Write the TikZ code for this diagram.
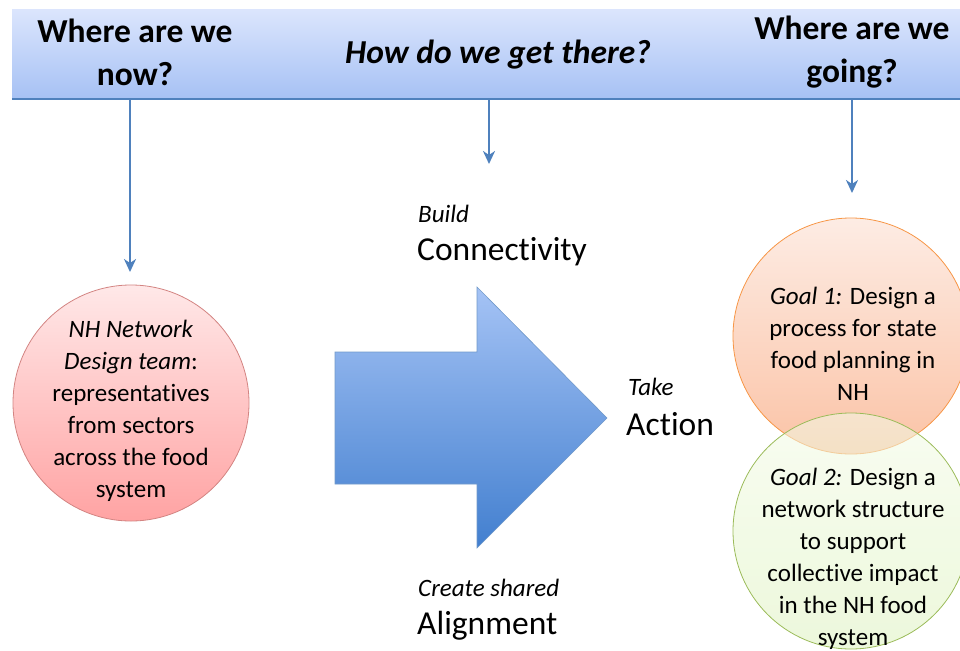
\documentclass[tikz,border=0pt]{standalone}
\usepackage{fontspec}
\setmainfont{Carlito}[Ligatures={NoCommon,NoRequired,NoContextual}]
\usepackage{tikz}
\usetikzlibrary{calc}
\usetikzlibrary{positioning}
\usetikzlibrary{arrows.meta}
\usepackage{xcolor}
\definecolor{C0}{HTML}{4F81BD}
\definecolor{C1}{HTML}{DBE5FD}
\definecolor{C2}{HTML}{A6C1F4}
\definecolor{C3}{HTML}{A5C3F5}
\definecolor{C4}{HTML}{427FCF}
\definecolor{R0}{HTML}{FFE8E8}
\definecolor{R1}{HTML}{FFA3A3}
\definecolor{R2}{HTML}{C0504D}
\definecolor{O0}{HTML}{FDECE4}
\definecolor{O1}{HTML}{FBC3A6}
\definecolor{O2}{HTML}{F79646}
\definecolor{G0}{HTML}{F3FAE6}
\definecolor{G1}{HTML}{DDF2BE}
\definecolor{G2}{HTML}{9BBB59}
\tikzset{
  goal/.style={circle,minimum size=236pt,inner sep=0pt,line width=0.8pt},
  circtext/.style={align=center,inner sep=0pt,font=\fontsize{25}{32}\selectfont},
  head/.style={align=center,inner sep=0pt,font=\fontsize{33.5}{43}\selectfont\bfseries},
  small/.style={anchor=west,inner sep=0pt,font=\fontsize{25}{28}\selectfont\itshape},
  big/.style={anchor=west,inner sep=0pt,font=\fontsize{33.5}{40}\selectfont},
  link/.style={color=C0,line width=2.5pt,-{Stealth[length=13pt,width=12pt,inset=4pt]}},
}

\begin{document}
\begin{tikzpicture}[x=1pt,y=-1pt]
\useasboundingbox (0,0) rectangle (960,650);

\node[rectangle,minimum width=950pt,minimum height=89pt,inner sep=0pt,
      top color=C1,bottom color=C2] (band) at (487,54.5) {};
\draw[color=C0,line width=1.5pt] (band.south west) -- (band.south east);

\node[head] (now) at (135,52) {Where are we\\now?};
\node[head,font=\fontsize{33.5}{43}\selectfont\bfseries\itshape] (how) at (498,55) {How do we get there?};
\node[head] (going) at (852,52) {Where are we\\going?};

\coordinate (a1) at (130,272);
\coordinate (a2) at (489,164);
\coordinate (a3) at (852,193);
\draw[link] (band.south -| a1) -- (a1);
\draw[link] (band.south -| a2) -- (a2);
\draw[link] (band.south -| a3) -- (a3);

\node[goal,draw=R2!70,top color=R0,bottom color=R1] (team) at (131,403) {};
\node[circtext] (teamtext) at (131,411)
  {\textit{NH Network}\\\textit{Design team}:\\representat\kern0pt ives\\from sectors\\across the food\\system};

\node[goal,draw=O2,top color=O0,bottom color=O1] (goal1) at (851,336) {};
\node[goal,draw=G2,top color=G0,bottom color=G1,fill opacity=0.55] (goal2) at (851,531) {};
\node[circtext] (goal1text) at (853,344)
  {\textit{Goal 1:} Design a\\process for state\\food planning in\\NH};
\node[circtext] (goal2text) at (853,559)
  {\textit{Goal 2:} Design a\\network structure\\to support\\collect\kern0pt ive impact\\in the NH food\\system};

\shade[top color=C3,bottom color=C4,draw=C0!80,line width=0.6pt]
  (335,352) -- (477,352) -- (477,287) -- (607,418) -- (477,548) -- (477,484) -- (335,484) -- cycle;

\node[small] (build) at (418,214) {Build};
\node[big] (connect) at (417,252) {Connect\kern0pt ivity};
\node[small] (take) at (628,387) {Take};
\node[big] (action) at (626,424) {Act\kern0pt ion};
\node[small] (create) at (418,588) {Create shared};
\node[big] (align) at (417,626) {Alignment};

\end{tikzpicture}
\end{document}
